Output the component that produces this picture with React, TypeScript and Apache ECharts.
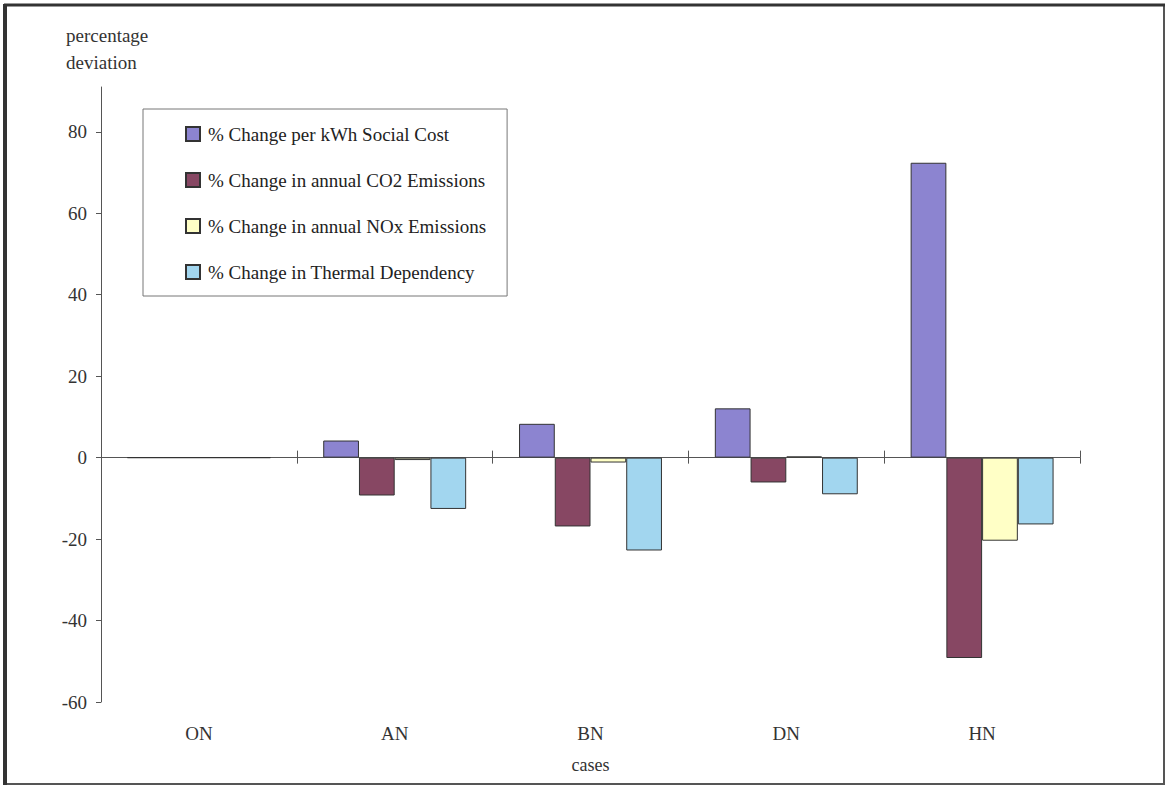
import React, { useEffect, useRef } from "react";
import * as echarts from "echarts";

// Cases on the category axis
const cases = ["ON", "AN", "BN", "DN", "HN"];

// Percentage deviation of each indicator per case
const socialCost = [0, 4.2, 8.3, 12.1, 72.4];
const co2Emissions = [0, -9.3, -16.9, -6.1, -49.2];
const noxEmissions = [0, -0.6, -1.2, 0.3, -20.4];
const thermalDependency = [0, -12.6, -22.8, -9.0, -16.4];

// Labelled ticks on the value axis
const yTicks = [-60, -40, -20, 0, 20, 40, 60, 80];
const yMin = -60;
const yMax = 91;

const seriesNames = [
  "% Change per kWh Social Cost",
  "% Change in annual CO2 Emissions",
  "% Change in annual NOx Emissions",
  "% Change in Thermal Dependency",
];
const seriesColors = ["#8c84d0", "#874763", "#ffffc6", "#a2d6ef"];
const seriesValues = [socialCost, co2Emissions, noxEmissions, thermalDependency];

const FONT = "'Liberation Serif', 'Times New Roman', serif";

export default function App() {
  const ref = useRef<HTMLDivElement>(null);

  useEffect(() => {
    document.body.style.margin = "0";
    if (!ref.current) return;
    const chart = echarts.init(ref.current, undefined, { renderer: "svg" });

    const axisColor = "#555";

    chart.setOption({
      animation: false,
      backgroundColor: "#ffffff",
      textStyle: { fontFamily: FONT },
      grid: { left: 101, right: 87, top: 87, bottom: 85, containLabel: false },
      legend: {
        orient: "vertical",
        left: 143,
        top: 109,
        data: seriesNames,
        icon: "rect",
        itemWidth: 14,
        itemHeight: 14,
        itemGap: 26,
        padding: [15, 21, 14, 42],
        borderColor: "#777",
        borderWidth: 1,
        textStyle: {
          fontFamily: FONT,
          fontSize: 19,
          lineHeight: 20,
          color: "#222",
          padding: [0, 0, 0, 3],
        },
      },
      xAxis: [
        {
          // zero line, ticks hanging below it
          type: "category",
          data: cases,
          position: "bottom",
          axisLine: { onZero: true, onZeroAxisIndex: 0, lineStyle: { color: axisColor, width: 1 } },
          axisTick: { show: true, inside: false, length: 6, lineStyle: { color: axisColor } },
          axisLabel: { show: false },
          splitLine: { show: false },
        },
        {
          // zero line, ticks rising above it
          type: "category",
          data: cases,
          position: "bottom",
          axisLine: { onZero: true, onZeroAxisIndex: 1, lineStyle: { color: axisColor, width: 1 } },
          axisTick: { show: true, inside: true, length: 7, lineStyle: { color: axisColor } },
          axisLabel: { show: false },
          splitLine: { show: false },
        },
        {
          // case names along the bottom edge
          type: "category",
          data: cases,
          position: "bottom",
          axisLine: { show: false, onZero: false },
          axisTick: { show: false },
          axisLabel: {
            show: true,
            margin: 22,
            fontFamily: FONT,
            fontSize: 19,
            color: "#333",
          },
          name: "cases",
          nameLocation: "middle",
          nameGap: 54,
          nameTextStyle: { fontFamily: FONT, fontSize: 18, color: "#333" },
        },
      ],
      yAxis: [
        {
          type: "value",
          min: yMin,
          max: yMax,
          position: "left",
          axisLine: { show: true, onZero: false, lineStyle: { color: axisColor, width: 1 } },
          axisTick: {
            show: true,
            inside: false,
            length: 5,
            customValues: yTicks,
            lineStyle: { color: axisColor },
          },
          axisLabel: {
            customValues: yTicks,
            margin: 14,
            fontFamily: FONT,
            fontSize: 19,
            color: "#333",
          },
          splitLine: { show: false },
        },
        {
          // same scale, only used to seat the second zero line
          type: "value",
          min: yMin,
          max: yMax,
          position: "right",
          axisLine: { show: false, onZero: false },
          axisTick: { show: false },
          axisLabel: { show: false },
          splitLine: { show: false },
        },
      ],
      graphic: [
        {
          type: "text",
          left: 66,
          top: 22,
          style: {
            text: "percentage\ndeviation",
            fontFamily: FONT,
            fontSize: 19,
            lineHeight: 27,
            align: "center",
            fill: "#333",
          },
        },
        {
          type: "rect",
          shape: { x: 5, y: 5, width: 1159, height: 779 },
          style: { fill: "none", stroke: "#555", lineWidth: 2 },
          silent: true,
        },
        {
          type: "line",
          shape: { x1: 5, y1: 4, x2: 5, y2: 785 },
          style: { stroke: "#333", lineWidth: 4 },
          silent: true,
        },
        {
          type: "line",
          shape: { x1: 4, y1: 5, x2: 1165, y2: 5 },
          style: { stroke: "#333", lineWidth: 3 },
          silent: true,
        },
      ],
      series: seriesNames.map((name, i) => ({
        name,
        type: "bar",
        xAxisIndex: 0,
        yAxisIndex: 0,
        data: seriesValues[i],
        barGap: "0%",
        barCategoryGap: "27%",
        itemStyle: {
          color: seriesColors[i],
          borderColor: "#333",
          borderWidth: 1,
        },
      })),
    });

    return () => chart.dispose();
  }, []);

  return <div ref={ref} style={{ width: 1167, height: 787 }} />;
}
